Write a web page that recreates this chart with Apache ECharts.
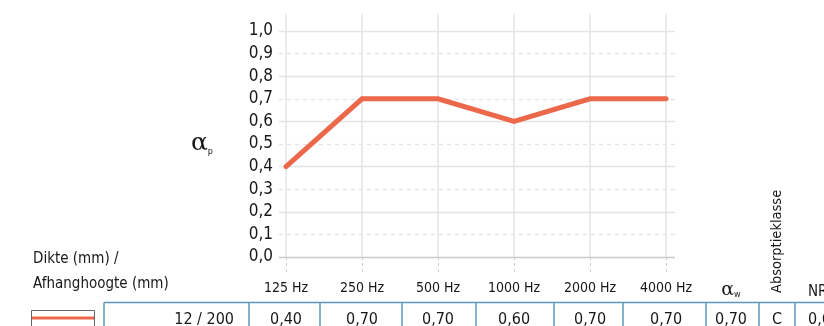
<!DOCTYPE html>
<html>
<head>
<meta charset="utf-8">
<script src="https://cdn.jsdelivr.net/npm/echarts@6/dist/echarts.min.js"></script>
<style>
  html, body { margin: 0; padding: 0; background: #fff; }
  #chart { width: 824px; height: 326px; }
</style>
</head>
<body>
<div id="chart"></div>
<script>
// Octave-band frequencies and practical absorption coefficient per band
const frequencies = ['125 Hz', '250 Hz', '500 Hz', '1000 Hz', '2000 Hz', '4000 Hz'];
const alphaP = [0.40, 0.70, 0.70, 0.60, 0.70, 0.70];
const yTicks = [0, 0.1, 0.2, 0.3, 0.4, 0.5, 0.6, 0.7, 0.8, 0.9, 1.0];

// Summary row of the table
const thicknessLabel = '12 / 200';
const alphaW = 0.70;
const absorptionClass = 'C';
const nrc = 0.65;

const FONT = "'Liberation Sans Narrow', 'DejaVu Sans Condensed', 'Roboto Condensed', sans-serif";
const LINE_COLOR = '#ec684b';
const GRID_COLOR = '#e4e4e4';
const TABLE_COLOR = '#5e98b9';
const TEXT_COLOR = '#1a1718';

const fmt = v => v.toFixed(2).replace('.', ',');
const idx = frequencies.map((_, i) => i);

const chart = echarts.init(document.getElementById('chart'), null, { renderer: 'canvas' });

chart.setOption({
  animation: false,
  backgroundColor: '#fff',
  grid: { left: 279, right: 149, top: 14, bottom: 69, containLabel: false },
  xAxis: {
    type: 'value',
    min: -0.092,
    max: 5.118,
    axisLine: { show: false },
    splitLine: { show: false },
    axisTick: {
      show: true,
      customValues: idx,
      length: 16,
      lineStyle: { color: '#cfcfcf', type: [3, 3], width: 1 }
    },
    axisLabel: {
      customValues: idx,
      formatter: v => frequencies[Math.round(v)],
      margin: 24,
      fontFamily: FONT,
      fontSize: 14,
      color: TEXT_COLOR
    }
  },
  yAxis: {
    type: 'value',
    min: 0,
    max: 1.075,
    axisLine: { show: false },
    axisTick: { show: false },
    splitLine: { show: false },
    axisLabel: {
      customValues: yTicks,
      formatter: v => v.toFixed(1).replace('.', ','),
      margin: 6,
      fontFamily: FONT,
      fontSize: 17,
      color: TEXT_COLOR
    },
    name: '{a|α}{s|p}',
    nameLocation: 'middle',
    nameRotate: 0,
    nameGap: 66,
    nameTextStyle: {
      padding: [16, 0, 0, 0],
      rich: {
        a: { fontFamily: "'DejaVu Serif', serif", fontSize: 25, color: TEXT_COLOR },
        s: { fontFamily: FONT, fontSize: 9, color: TEXT_COLOR, verticalAlign: 'bottom', padding: [10, 0, 0, 0] }
      }
    }
  },
  series: [
    {
      // grid lines: solid on even tenths, dashed on odd tenths, verticals at each band
      type: 'line',
      data: [],
      z: 1,
      silent: true,
      markLine: {
        silent: true,
        symbol: 'none',
        label: { show: false },
        emphasis: { disabled: true },
        data: [
          ...yTicks.map((v, i) => ({
            yAxis: v,
            lineStyle: {
              color: i === 0 ? '#c9c9c9' : GRID_COLOR,
              width: 1.3,
              type: i % 2 === 1 ? [4, 4] : 'solid'
            }
          })),
          ...idx.map(i => ({
            xAxis: i,
            lineStyle: { color: GRID_COLOR, width: 1.5, type: 'solid' }
          }))
        ]
      }
    },
    {
      type: 'line',
      z: 5,
      data: alphaP.map((v, i) => [i, v]),
      symbol: 'none',
      lineStyle: { color: LINE_COLOR, width: 5, cap: 'round', join: 'miter' },
      silent: true
    }
  ]
});

// Table header and summary row, aligned to the band columns of the x axis
const colX = idx.map(i => chart.convertToPixel({ xAxisIndex: 0 }, i));
const rowTop = 302.5;
const rowTextY = 320;
const separators = [104, 249, 320, 402, 476, 554, 623, 706, 759, 795];
const textStyle = (extra) => Object.assign({ fontFamily: FONT, fontSize: 15, fill: TEXT_COLOR }, extra);

const graphics = [];
// header texts
graphics.push({ type: 'text', left: 33, top: 252, style: textStyle({ text: 'Dikte (mm) /' }) });
graphics.push({ type: 'text', left: 33, top: 277, style: textStyle({ text: 'Afhanghoogte (mm)' }) });
graphics.push({
  type: 'text', x: 731, y: 290,
  style: {
    text: '{a|α}{s|w}', x: 0, y: 0, align: 'center', verticalAlign: 'middle',
    rich: {
      a: { fontFamily: "'DejaVu Serif', serif", fontSize: 19, fill: TEXT_COLOR },
      s: { fontFamily: FONT, fontSize: 9, fill: TEXT_COLOR, verticalAlign: 'bottom', padding: [8, 0, 0, 0] }
    }
  }
});
graphics.push({
  type: 'text', x: 777, y: 293, rotation: Math.PI / 2,
  style: textStyle({ text: 'Absorptieklasse', x: 0, y: 0, align: 'left', verticalAlign: 'middle', fontSize: 14.5 })
});
graphics.push({ type: 'text', x: 808, y: 292, style: textStyle({ text: 'NRC', verticalAlign: 'middle' }) });

// table borders
graphics.push({ type: 'line', shape: { x1: 104, y1: rowTop, x2: 824, y2: rowTop }, style: { stroke: TABLE_COLOR, lineWidth: 1.5 } });
separators.forEach(x => graphics.push({
  type: 'line', shape: { x1: x, y1: rowTop, x2: x, y2: 326 }, style: { stroke: TABLE_COLOR, lineWidth: 1.5 }
}));

// legend swatch
graphics.push({ type: 'rect', shape: { x: 31.5, y: 310.5, width: 63, height: 20 }, style: { fill: '#fff', stroke: '#666', lineWidth: 1 } });
graphics.push({ type: 'line', shape: { x1: 32, y1: 318, x2: 94, y2: 318 }, style: { stroke: LINE_COLOR, lineWidth: 3 } });

// row values
graphics.push({ type: 'text', x: 234, y: rowTextY, style: textStyle({ text: thicknessLabel, align: 'right', verticalAlign: 'middle', fontSize: 16 }) });
alphaP.forEach((v, i) => graphics.push({
  type: 'text', x: colX[i], y: rowTextY, style: textStyle({ text: fmt(v), align: 'center', verticalAlign: 'middle', fontSize: 16 })
}));
graphics.push({ type: 'text', x: 731, y: rowTextY, style: textStyle({ text: fmt(alphaW), align: 'center', verticalAlign: 'middle', fontSize: 16 }) });
graphics.push({ type: 'text', x: 777, y: rowTextY, style: textStyle({ text: absorptionClass, align: 'center', verticalAlign: 'middle', fontSize: 16 }) });
graphics.push({ type: 'text', x: 808, y: rowTextY, style: textStyle({ text: fmt(nrc), align: 'left', verticalAlign: 'middle', fontSize: 16 }) });

chart.setOption({ graphic: graphics.map(g => Object.assign({ silent: true, z: 10 }, g)) });
</script>
</body>
</html>
